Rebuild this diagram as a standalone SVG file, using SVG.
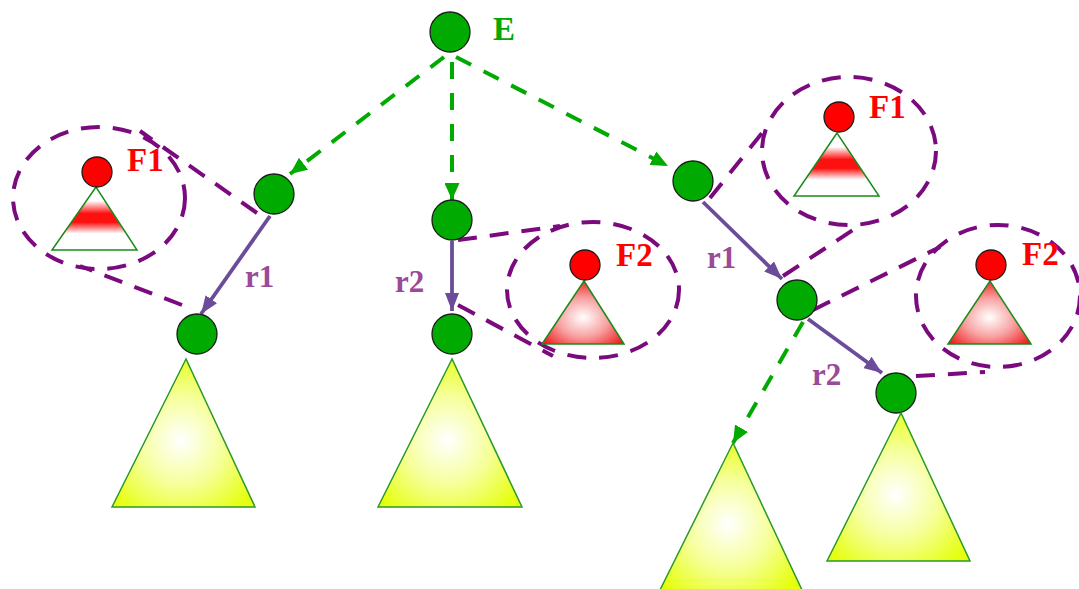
<svg xmlns="http://www.w3.org/2000/svg" width="1079" height="589" viewBox="0 0 1079 589">
<style>
.gnode{fill:#00aa00;stroke:#1a1a1a;stroke-width:1.3}
.rnode{fill:#ff0000;stroke:#1a1a1a;stroke-width:1.3}
.ytri{fill:url(#yel);stroke:#2a9a2a;stroke-width:1.5}
.f1tri{fill:url(#band);stroke:#1a8a1a;stroke-width:1.5}
.f2tri{fill:url(#pink);stroke:#1a8a1a;stroke-width:1.5}
.loop{fill:none;stroke:#7a0a7e;stroke-width:4;stroke-dasharray:19 13}
.gdash{fill:none;stroke:#00aa00;stroke-width:4;stroke-dasharray:17 14}
.parr{fill:none;stroke:#6b4c9a;stroke-width:3.8}
.lbl{font-family:"Liberation Serif",serif;font-weight:bold}
.red{fill:#ff0000;font-size:33px}
.grn{fill:#00aa00;font-size:33px}
.pur{fill:#9a4a98;font-size:31px}
</style>
<defs>
<radialGradient id="yel" cx="0.48" cy="0.55" r="0.6">
<stop offset="0" stop-color="#ffffff"/>
<stop offset="0.5" stop-color="#f6ff9a"/>
<stop offset="1" stop-color="#e6ff10"/>
</radialGradient>
<linearGradient id="band" x1="0" y1="0" x2="0" y2="1">
<stop offset="0" stop-color="#ffffff"/>
<stop offset="0.22" stop-color="#ffffff"/>
<stop offset="0.42" stop-color="#ff1010"/>
<stop offset="0.56" stop-color="#ff1010"/>
<stop offset="0.74" stop-color="#ffffff"/>
<stop offset="1" stop-color="#ffffff"/>
</linearGradient>
<radialGradient id="pink" cx="0.5" cy="0.58" r="0.62">
<stop offset="0" stop-color="#ffffff"/>
<stop offset="0.5" stop-color="#f8a0a0"/>
<stop offset="1" stop-color="#ee1a1a"/>
</radialGradient>
<marker id="garr" viewBox="0 0 17 15" refX="17" refY="7.5" markerWidth="17" markerHeight="15" markerUnits="userSpaceOnUse" orient="auto">
<path d="M0,0 L17,7.5 L0,15 z" fill="#00aa00"/>
</marker>
<marker id="parr" viewBox="0 0 18 14" refX="18" refY="7" markerWidth="18" markerHeight="14" markerUnits="userSpaceOnUse" orient="auto">
<path d="M0,0 L18,7 L0,14 z" fill="#6b4c9a"/>
</marker>
</defs>

<g id="loops">
<ellipse class="loop" cx="99" cy="198" rx="86" ry="71"/>
<line class="loop" x1="257" y1="213" x2="140" y2="131"/>
<line class="loop" x1="182" y1="305" x2="80" y2="266"/>
<ellipse class="loop" cx="593" cy="290" rx="86" ry="68"/>
<line class="loop" x1="458" y1="240" x2="560" y2="226"/>
<line class="loop" x1="458" y1="305" x2="553" y2="356"/>
<ellipse class="loop" cx="849" cy="151" rx="87" ry="74"/>
<line class="loop" x1="710" y1="198" x2="770" y2="123"/>
<line class="loop" x1="783" y1="276" x2="862" y2="224"/>
<ellipse class="loop" cx="998" cy="296" rx="82" ry="71"/>
<line class="loop" x1="813" y1="310" x2="940" y2="247"/>
<line class="loop" x1="884" y1="378" x2="985" y2="372"/>
</g>

<g id="connectors">
<line class="gdash" x1="444" y1="57" x2="290" y2="174" marker-end="url(#garr)"/>
<line class="gdash" x1="452" y1="62" x2="452" y2="200" marker-end="url(#garr)"/>
<line class="gdash" x1="456" y1="57" x2="668" y2="166" marker-end="url(#garr)"/>
<line class="gdash" x1="803" y1="322" x2="733" y2="443" marker-end="url(#garr)"/>
<line class="parr" x1="270" y1="216" x2="201" y2="314" marker-end="url(#parr)"/>
<line class="parr" x1="452" y1="241" x2="452" y2="311" marker-end="url(#parr)"/>
<line class="parr" x1="703" y1="202" x2="782" y2="279" marker-end="url(#parr)"/>
<line class="parr" x1="808" y1="319" x2="882" y2="373" marker-end="url(#parr)"/>
<text class="lbl pur" x="245" y="287">r1</text>
<text class="lbl pur" x="395" y="292">r2</text>
<text class="lbl pur" x="707" y="268">r1</text>
<text class="lbl pur" x="812" y="385">r2</text>
</g>

<g id="nodeE"><circle class="gnode" cx="450" cy="32" r="20"/><text class="lbl grn" x="493" y="40">E</text></g>
<g id="nodeA"><circle class="gnode" cx="274" cy="194" r="20"/></g>
<g id="nodeA1"><circle class="gnode" cx="197" cy="334" r="20"/><polygon class="ytri" points="186,359 112,507 255,507"/></g>
<g id="nodeB"><circle class="gnode" cx="452" cy="220" r="20"/></g>
<g id="nodeB1"><circle class="gnode" cx="452" cy="334" r="20"/><polygon class="ytri" points="452,359 378,507 522,507"/></g>
<g id="nodeC"><circle class="gnode" cx="693" cy="181" r="20"/></g>
<g id="nodeD"><circle class="gnode" cx="797" cy="300" r="20"/></g>
<g id="treeD"><polygon class="ytri" points="733,443 660,590 802,590"/></g>
<g id="nodeG"><circle class="gnode" cx="896" cy="393" r="20"/><polygon class="ytri" points="901,413 827,561 970,561"/></g>

<g id="F1left"><polygon class="f1tri" points="96,187 52,250 137,250"/><circle class="rnode" cx="97" cy="172" r="15"/><text class="lbl red" x="127" y="171">F1</text></g>
<g id="F1right"><polygon class="f1tri" points="837,133 794,196 879,196"/><circle class="rnode" cx="839" cy="117" r="15"/><text class="lbl red" x="869" y="118">F1</text></g>
<g id="F2mid"><polygon class="f2tri" points="584,281 542,344 624,344"/><circle class="rnode" cx="585" cy="265" r="15"/><text class="lbl red" x="616" y="266">F2</text></g>
<g id="F2right"><polygon class="f2tri" points="990,281 948,344 1031,344"/><circle class="rnode" cx="991" cy="265" r="15"/><text class="lbl red" x="1022" y="265">F2</text></g>
</svg>
